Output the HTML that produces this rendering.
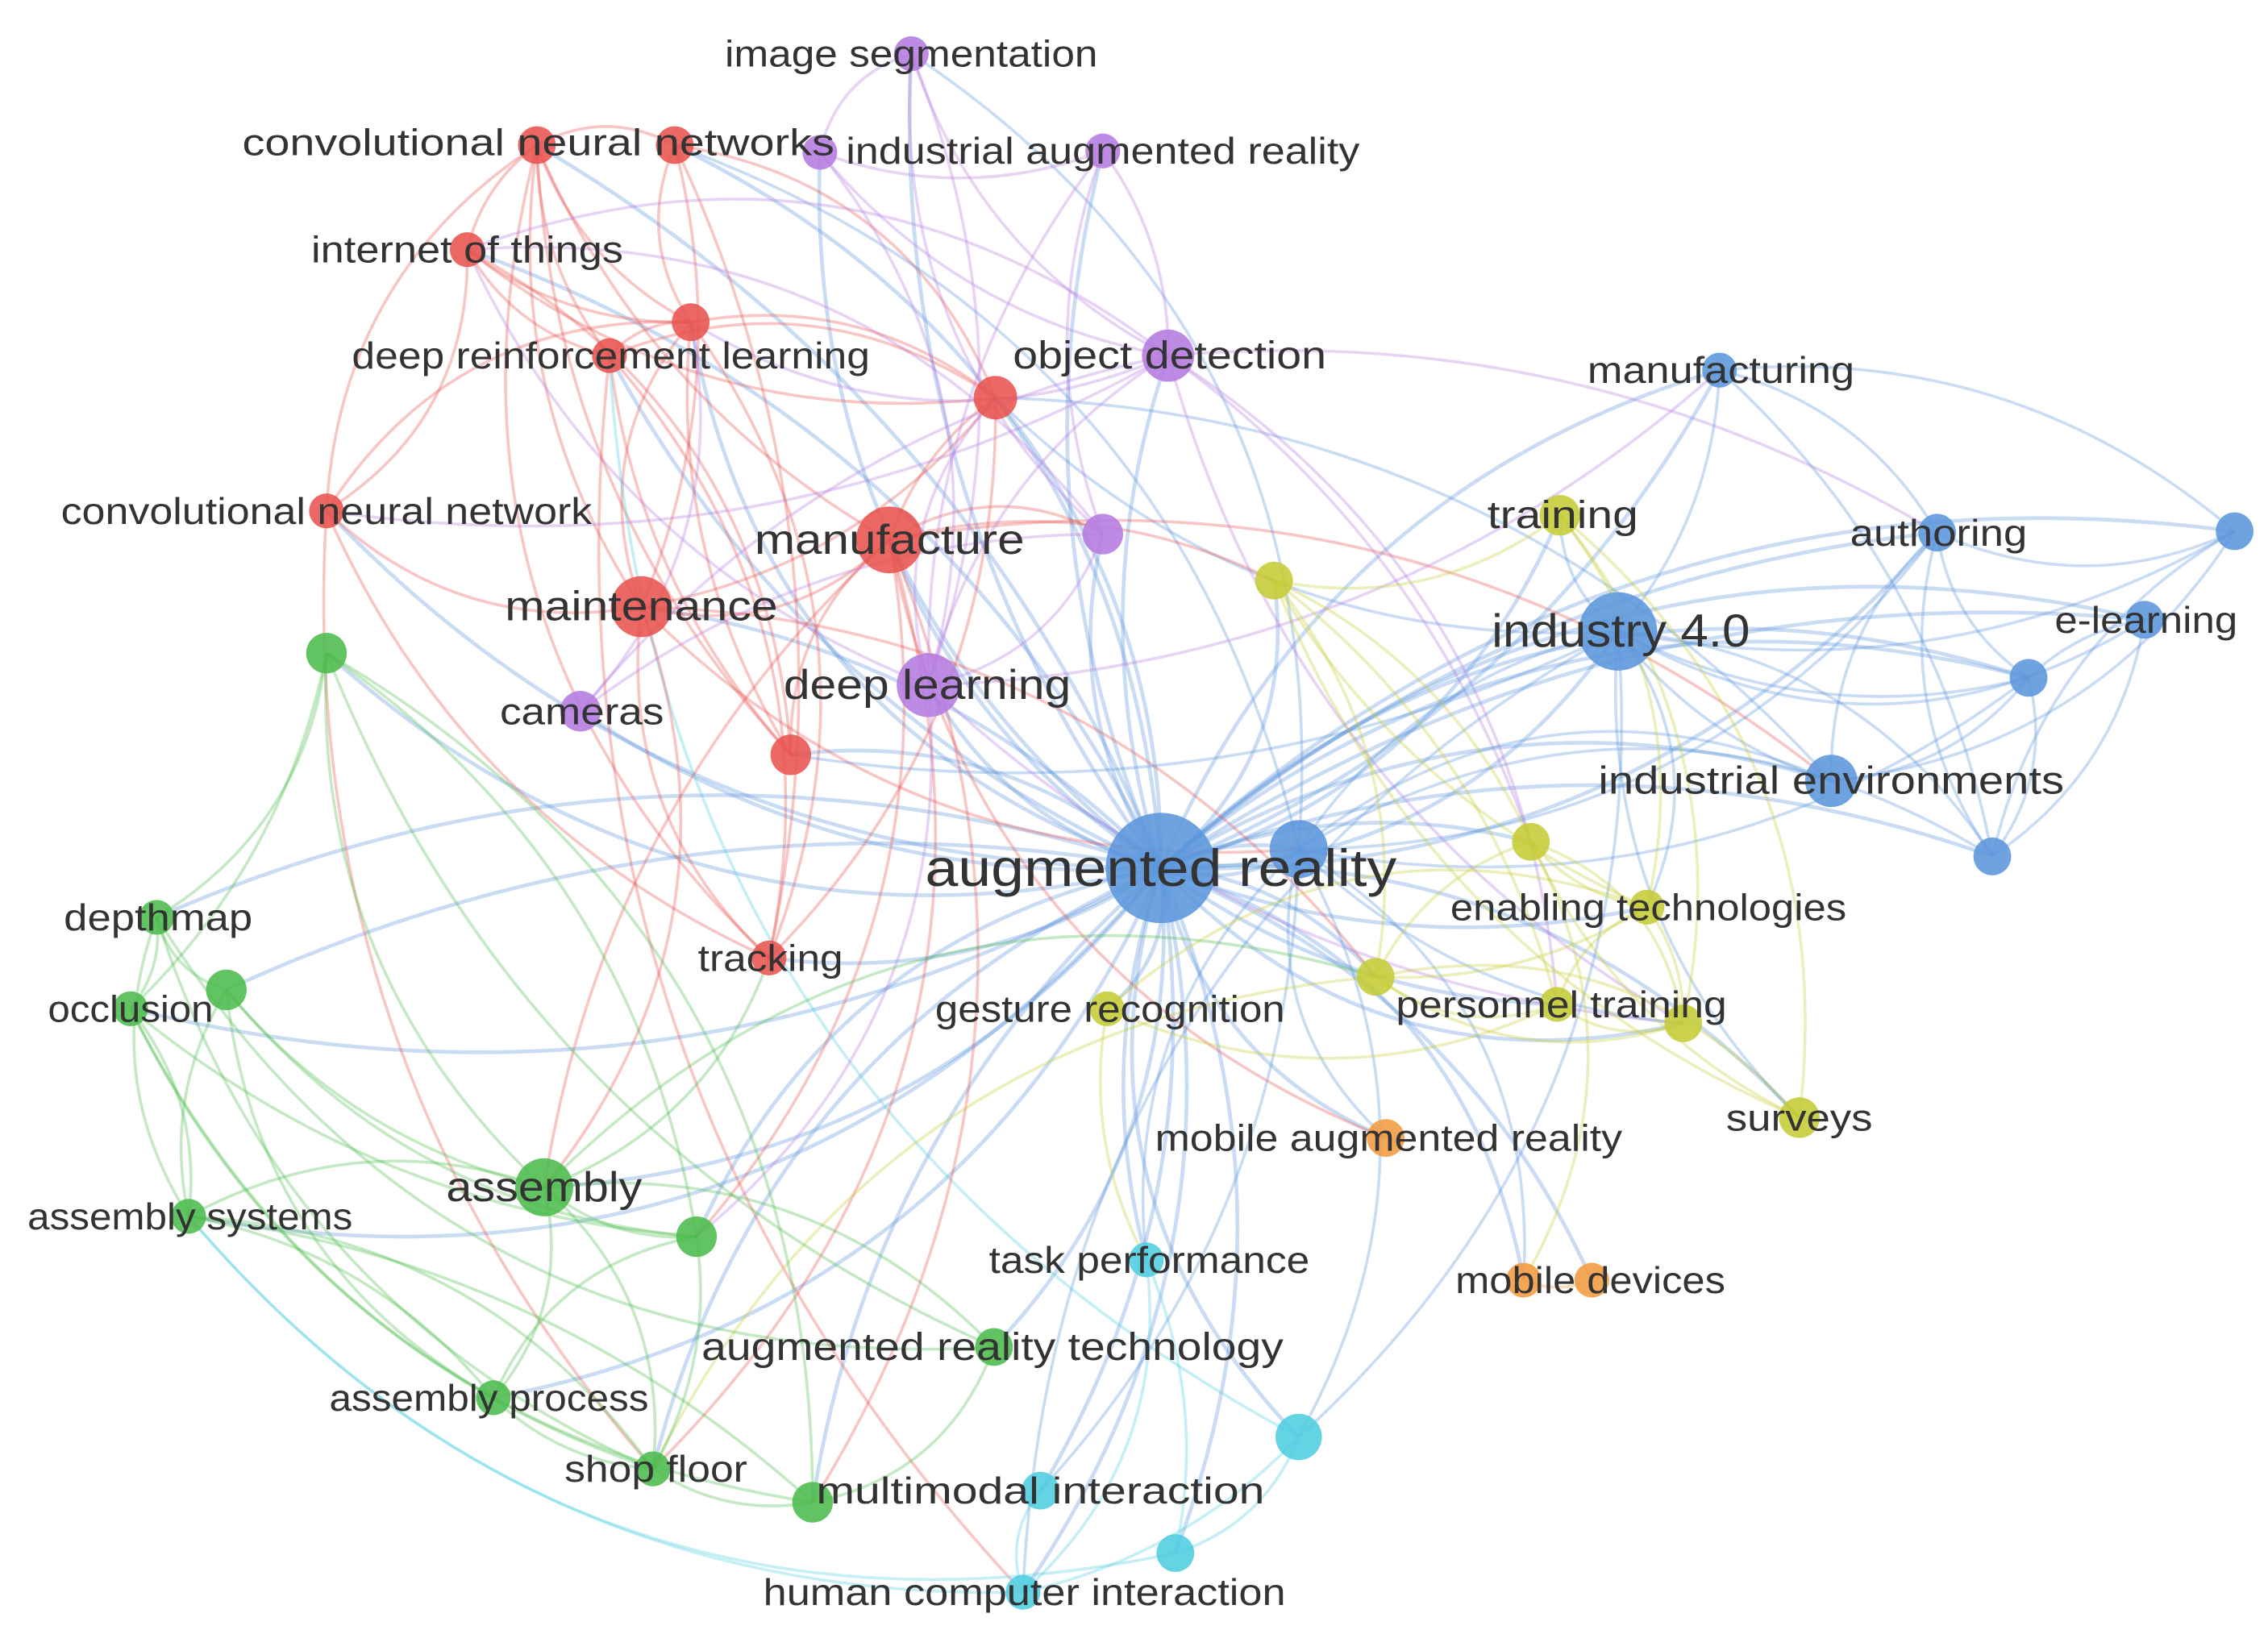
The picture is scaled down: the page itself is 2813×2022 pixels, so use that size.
<!DOCTYPE html>
<html><head><meta charset="utf-8"><style>
html,body{margin:0;padding:0;background:#fff;}
svg{display:block;}
text{font-family:"Liberation Sans",sans-serif;fill:#333;dominant-baseline:central;text-anchor:middle;}
</style></head><body>
<svg id="s" width="2813" height="2022" viewBox="0 0 1563 1123" preserveAspectRatio="none" xmlns="http://www.w3.org/2000/svg">
<rect width="1563" height="1123" fill="#fff"/>
<g id="edges" fill="none"></g>
<g id="nodes"></g>
<g id="labels">
<text x="371" y="98" font-size="26" textLength="408" lengthAdjust="spacingAndGlyphs">convolutional neural networks</text>
<text x="322" y="172" font-size="26" textLength="215" lengthAdjust="spacingAndGlyphs">internet of things</text>
<text x="421" y="245" font-size="26" textLength="357" lengthAdjust="spacingAndGlyphs">deep reinforcement learning</text>
<text x="225" y="352" font-size="26" textLength="366" lengthAdjust="spacingAndGlyphs">convolutional neural network</text>
<text x="613" y="372" font-size="29" textLength="186" lengthAdjust="spacingAndGlyphs">manufacture</text>
<text x="442" y="418" font-size="29" textLength="188" lengthAdjust="spacingAndGlyphs">maintenance</text>
<text x="628" y="37" font-size="26" textLength="257" lengthAdjust="spacingAndGlyphs">image segmentation</text>
<text x="760" y="104" font-size="26" textLength="354" lengthAdjust="spacingAndGlyphs">industrial augmented reality</text>
<text x="806" y="245" font-size="27" textLength="216" lengthAdjust="spacingAndGlyphs">object detection</text>
<text x="639" y="472" font-size="29" textLength="198" lengthAdjust="spacingAndGlyphs">deep learning</text>
<text x="401" y="490" font-size="26" textLength="113" lengthAdjust="spacingAndGlyphs">cameras</text>
<text x="800" y="598" font-size="36" textLength="325" lengthAdjust="spacingAndGlyphs">augmented reality</text>
<text x="1186" y="255" font-size="26" textLength="184" lengthAdjust="spacingAndGlyphs">manufacturing</text>
<text x="1336" y="367" font-size="26" textLength="122" lengthAdjust="spacingAndGlyphs">authoring</text>
<text x="1117" y="435" font-size="32" textLength="178" lengthAdjust="spacingAndGlyphs">industry 4.0</text>
<text x="1479" y="427" font-size="26" textLength="126" lengthAdjust="spacingAndGlyphs">e-learning</text>
<text x="1262" y="538" font-size="27" textLength="321" lengthAdjust="spacingAndGlyphs">industrial environments</text>
<text x="1077" y="355" font-size="27" textLength="104" lengthAdjust="spacingAndGlyphs">training</text>
<text x="1136" y="625" font-size="26" textLength="273" lengthAdjust="spacingAndGlyphs">enabling technologies</text>
<text x="765" y="695" font-size="26" textLength="241" lengthAdjust="spacingAndGlyphs">gesture recognition</text>
<text x="1076" y="692" font-size="26" textLength="228" lengthAdjust="spacingAndGlyphs">personnel training</text>
<text x="1240" y="770" font-size="26" textLength="101" lengthAdjust="spacingAndGlyphs">surveys</text>
<text x="957" y="784" font-size="26" textLength="322" lengthAdjust="spacingAndGlyphs">mobile augmented reality</text>
<text x="1096" y="882" font-size="26" textLength="186" lengthAdjust="spacingAndGlyphs">mobile devices</text>
<text x="792" y="868" font-size="26" textLength="221" lengthAdjust="spacingAndGlyphs">task performance</text>
<text x="717" y="1027" font-size="26" textLength="309" lengthAdjust="spacingAndGlyphs">multimodal interaction</text>
<text x="706" y="1097" font-size="26" textLength="360" lengthAdjust="spacingAndGlyphs">human computer interaction</text>
<text x="109" y="632" font-size="26" textLength="130" lengthAdjust="spacingAndGlyphs">depthmap</text>
<text x="90" y="695" font-size="26" textLength="114" lengthAdjust="spacingAndGlyphs">occlusion</text>
<text x="531" y="660" font-size="26" textLength="100" lengthAdjust="spacingAndGlyphs">tracking</text>
<text x="375" y="818" font-size="29" textLength="135" lengthAdjust="spacingAndGlyphs">assembly</text>
<text x="131" y="838" font-size="26" textLength="224" lengthAdjust="spacingAndGlyphs">assembly systems</text>
<text x="684" y="928" font-size="27" textLength="401" lengthAdjust="spacingAndGlyphs">augmented reality technology</text>
<text x="337" y="963" font-size="26" textLength="220" lengthAdjust="spacingAndGlyphs">assembly process</text>
<text x="452" y="1012" font-size="26" textLength="126" lengthAdjust="spacingAndGlyphs">shop floor</text>
</g>
</svg>
<script>
var C={r:"#e8534f",p:"#b57be0",b:"#5b96dc",y:"#c5cc35",o:"#f39a40",c:"#4fcde0",g:"#4cbb4c"};
var N=[
["r",370,100,13],["r",465,100,13],["r",322,172,12],["r",476,222,13],["r",420,245,12],["r",686,274,15],["r",225,352,12],["r",613,372,23],["r",442,418,21],["r",545,520,14],["r",530,660,12],
["p",628,37,12],["p",565,105,12],["p",760,104,12],["p",805,245,18],["p",760,368,14],["p",640,472,22],["p",400,490,14],
["b",800,598,38],["b",895,585,20],["b",1185,255,12],["b",1335,367,13],["b",1540,366,13],["b",1115,435,27],["b",1478,427,13],["b",1398,467,13],["b",1262,538,18],["b",1373,590,13],
["y",1075,355,14],["y",878,400,13],["y",1055,580,13],["y",1135,625,12],["y",948,673,13],["y",763,695,12],["y",1073,692,12],["y",1160,705,13],["y",1240,770,14],
["o",955,784,13],["o",1050,882,12],["o",1097,882,12],
["c",790,868,12],["c",895,990,16],["c",717,1027,13],["c",810,1070,13],["c",705,1097,12],
["g",225,450,14],["g",108,632,12],["g",156,682,14],["g",90,695,12],["g",375,818,20],["g",130,838,12],["g",480,852,14],["g",685,928,13],["g",340,963,12],["g",450,1012,12],["g",560,1035,14]
];
var seed=11;function rnd(){seed=(seed*16807)%2147483647;return seed/2147483647;}
var E=[],hub=18;
for(var i=0;i<N.length;i++){if(i!=hub)E.push([hub,i]);}
var hubs=[7,8,16,23,19,14,49,26];
for(var i=0;i<N.length;i++)for(var j=i+1;j<N.length;j++){
 var same=N[i][0]==N[j][0];
 var d=Math.hypot(N[i][1]-N[j][1],N[i][2]-N[j][2]);
 var p=same?0.6:0.025;
 if(hubs.indexOf(i)>=0||hubs.indexOf(j)>=0)p+=0.12;
 if(d>700)p*=0.3;
 if(rnd()<p)E.push([i,j]);
}
var g=document.getElementById("edges"),h="";
E.forEach(function(e,k){
 var a=N[e[0]],b=N[e[1]];
 var mx=(a[1]+b[1])/2,my=(a[2]+b[2])/2,dx=b[1]-a[1],dy=b[2]-a[2];
 var s=(rnd()<0.5?1:-1)*(0.15+rnd()*0.15);
 var cx=mx-dy*s,cy=my+dx*s;
 var col=C[(a[3]>=b[3])?a[0]:b[0]];
 var w=(e[0]==hub||e[1]==hub)?2.6:2.0;
 h+='<path d="M'+a[1]+' '+a[2]+' Q'+cx.toFixed(1)+' '+cy.toFixed(1)+' '+b[1]+' '+b[2]+'" stroke="'+col+'" stroke-opacity="0.33" stroke-width="'+w+'"/>';
});
g.innerHTML=h;
var nh="";
N.forEach(function(n){nh+='<circle cx="'+n[1]+'" cy="'+n[2]+'" r="'+n[3]+'" fill="'+C[n[0]]+'" fill-opacity="0.88"/>';});
document.getElementById("nodes").innerHTML=nh;
</script>
</body></html>
